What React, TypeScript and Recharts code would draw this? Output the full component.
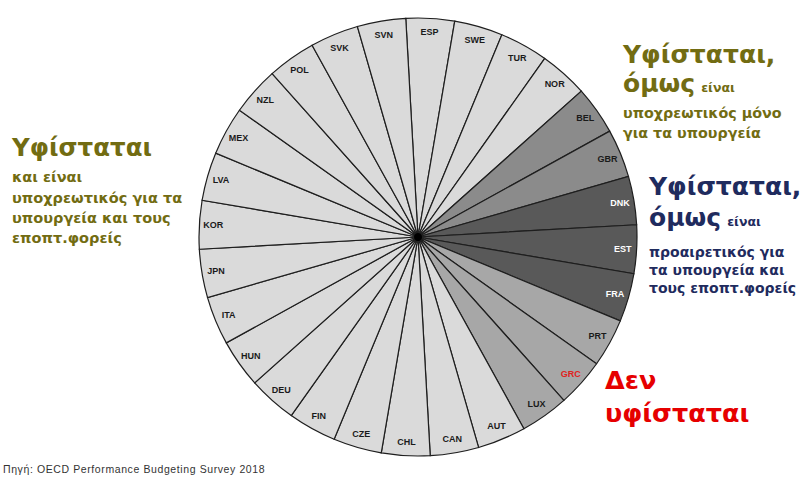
import { PieChart, Pie, Cell } from 'recharts';

// countries clockwise, starting with the slice just left of twelve o'clock
const countries = [
  'ESP', 'SWE', 'TUR', 'NOR', 'BEL', 'GBR', 'DNK', 'EST', 'FRA', 'PRT',
  'GRC', 'LUX', 'AUT', 'CAN', 'CHL', 'CZE', 'FIN', 'DEU', 'HUN', 'ITA',
  'JPN', 'KOR', 'LVA', 'MEX', 'NZL', 'POL', 'SVK', 'SVN',
];

// M = mandatory for ministries + agencies, O = mandatory only for ministries,
// P = optional, N = does not exist
const status = [
  'M', 'M', 'M', 'M', 'O', 'O', 'P', 'P', 'P', 'N',
  'N', 'N', 'M', 'M', 'M', 'M', 'M', 'M', 'M', 'M',
  'M', 'M', 'M', 'M', 'M', 'M', 'M', 'M',
];

const statusFill: Record<string, string> = {
  M: '#dadada',
  O: '#8b8b8b',
  P: '#595959',
  N: '#a7a7a7',
};

const highlight = 'GRC';

const data = countries.map((name, i) => ({ name, value: 1, status: status[i] }));
const hub = [{ name: 'hub', value: 1 }];

const CX = 413;
const CY = 232;
const R = 219;
const RADIAN = Math.PI / 180;

const renderLabel = (props: any) => {
  const { cx, cy, midAngle, name, payload } = props;
  const r = 205;
  const x = cx + r * Math.cos(-midAngle * RADIAN);
  const y = cy + r * Math.sin(-midAngle * RADIAN);
  const st = payload?.status ?? props.status;
  const fill = name === highlight ? '#e0221c' : st === 'P' ? '#ffffff' : '#1a1a1a';
  return (
    <text
      x={x}
      y={y}
      fill={fill}
      textAnchor="middle"
      dominantBaseline="central"
      fontSize={9}
      fontWeight="bold"
      fontFamily="Liberation Sans, Arial, sans-serif"
    >
      {name}
    </text>
  );
};

const noteFont = 'DejaVu Sans, Verdana, sans-serif';
const OLIVE = '#726c12';
const NAVY = '#1f2b5e';
const RED = '#e60000';

export default function App() {
  return (
    <div style={{ position: 'absolute', left: 0, top: 0, width: 807, height: 478, background: '#fff' }}>
      <PieChart width={807} height={478}>
        <Pie
          data={data}
          dataKey="value"
          cx={CX}
          cy={CY}
          innerRadius={0}
          outerRadius={R}
          startAngle={93.2}
          endAngle={-266.8}
          stroke="#1e1e1e"
          strokeWidth={1.2}
          label={renderLabel}
          labelLine={false}
          isAnimationActive={false}
        >
          {data.map((d, i) => (
            <Cell key={`cell-${i}`} fill={statusFill[d.status]} />
          ))}
        </Pie>
        <Pie
          data={hub}
          dataKey="value"
          cx={CX}
          cy={CY}
          outerRadius={4}
          fill="#000"
          stroke="none"
          isAnimationActive={false}
        />
      </PieChart>

      <svg width={807} height={478} style={{ position: 'absolute', left: 0, top: 0, pointerEvents: 'none' }}>
        <g fontFamily={noteFont} fontWeight="bold">
          {/* left */}
          <g fill={OLIVE}>
            <text x={12} y={156} fontSize={24.5}>Υφίσταται</text>
            <text x={12} y={182} fontSize={14.5}>και είναι</text>
            <text x={12} y={203} fontSize={14.5}>υποχρεωτικός για τα</text>
            <text x={12} y={223} fontSize={14.5}>υπουργεία και τους</text>
            <text x={12} y={243} fontSize={14.5}>εποπτ.φορείς</text>
          </g>
          {/* top right */}
          <g fill={OLIVE}>
            <text x={623} y={63} fontSize={25}>Υφίσταται,</text>
            <text x={623} y={92}>
              <tspan fontSize={25}>όμως</tspan>
              <tspan fontSize={12.5} dx={6}>είναι</tspan>
            </text>
            <text x={623} y={118} fontSize={14.3}>υποχρεωτικός μόνο</text>
            <text x={623} y={138} fontSize={14.3}>για τα υπουργεία</text>
          </g>
          {/* middle right */}
          <g fill={NAVY}>
            <text x={649} y={195} fontSize={25}>Υφίσταται,</text>
            <text x={649} y={226}>
              <tspan fontSize={25}>όμως</tspan>
              <tspan fontSize={12.5} dx={6}>είναι</tspan>
            </text>
            <text x={649} y={257} fontSize={14}>προαιρετικός για</text>
            <text x={649} y={275} fontSize={14}>τα υπουργεία και</text>
            <text x={649} y={293} fontSize={14}>τους εποπτ.φορείς</text>
          </g>
          {/* bottom right */}
          <g fill={RED}>
            <text x={605} y={389} fontSize={25.5}>Δεν</text>
            <text x={605} y={422} fontSize={25.5}>υφίσταται</text>
          </g>
        </g>
        <text
          x={3}
          y={473}
          fontSize={10.5}
          letterSpacing={0.6}
          fill="#333"
          fontFamily="Liberation Sans, Arial, sans-serif"
        >
          Πηγή: OECD Performance Budgeting Survey 2018
        </text>
      </svg>
    </div>
  );
}
